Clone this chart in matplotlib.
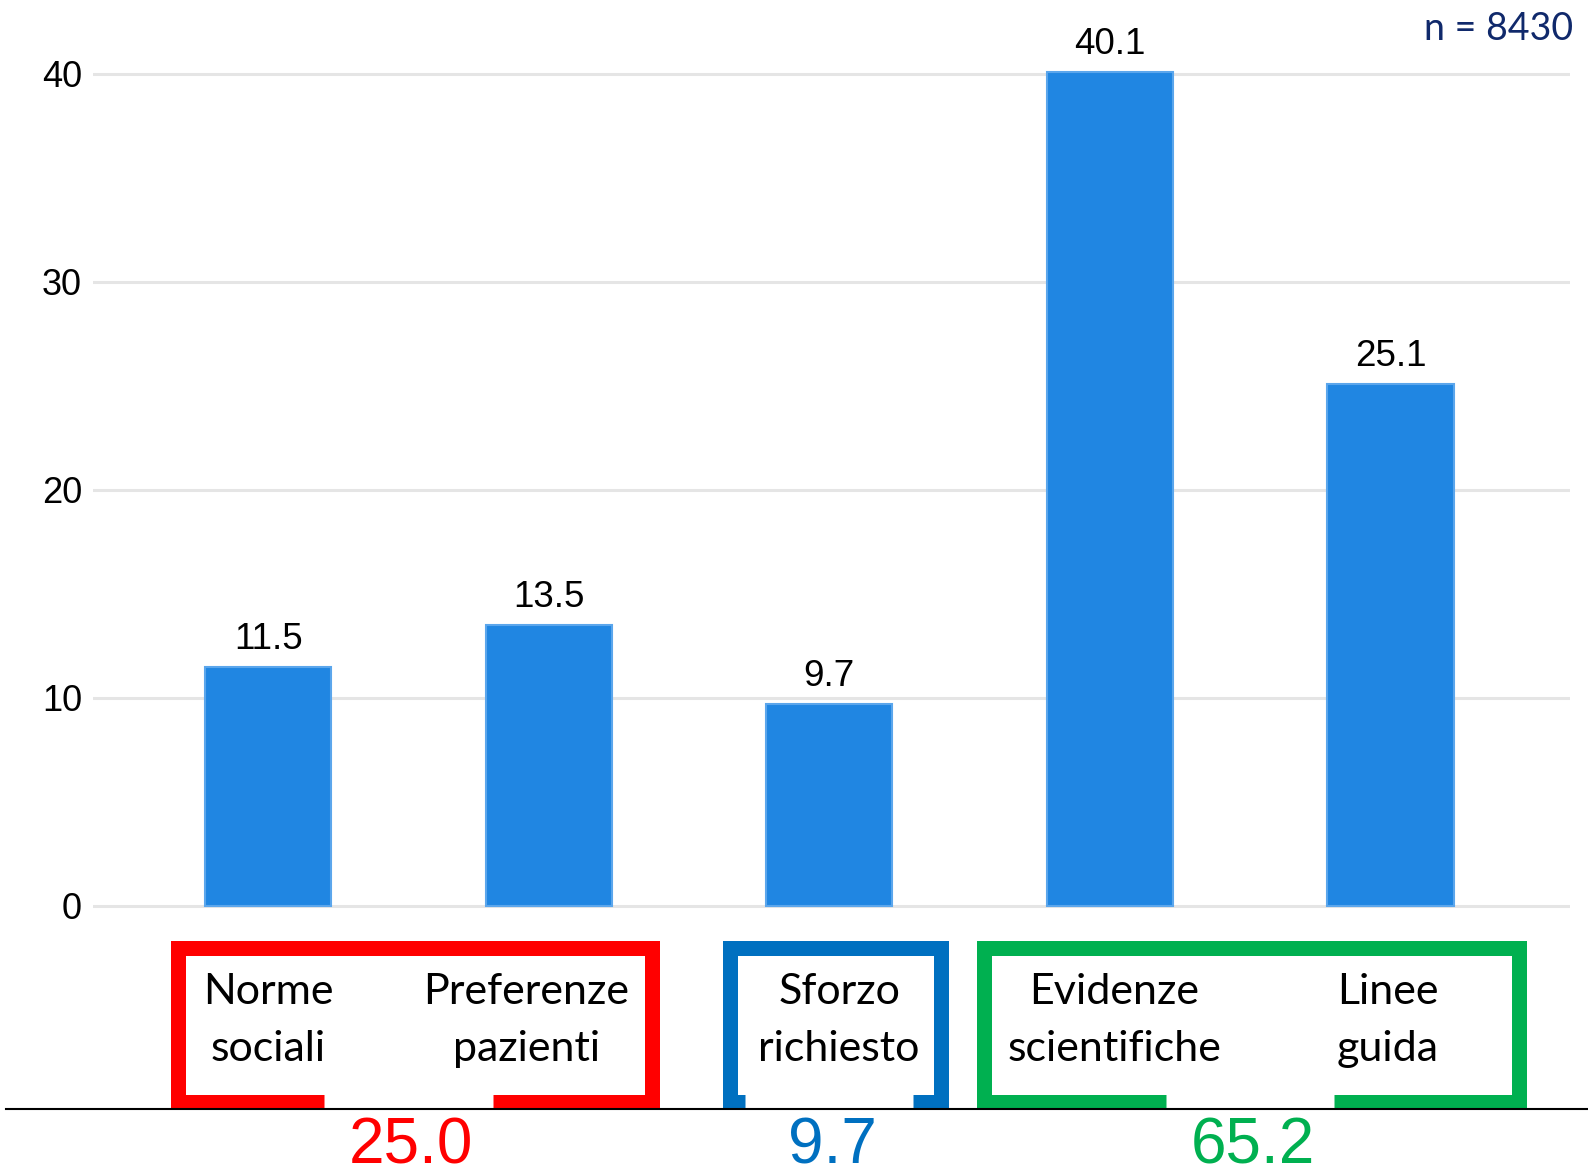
import numpy as np
import matplotlib
matplotlib.use("Agg")
import matplotlib.pyplot as plt
from matplotlib.lines import Line2D

# percentages per factor
categories = ["Norme\nsociali", "Preferenze\npazienti", "Sforzo\nrichiesto",
              "Evidenze\nscientifiche", "Linee\nguida"]
values = [11.5, 13.5, 9.7, 40.1, 25.1]
yticks = [0, 10, 20, 30, 40]
n_label = "n = 8430"

# grouped factors: (first index, last index, colour)
groups = [(0, 1, "#ff0000"), (2, 2, "#0070c0"), (3, 4, "#00b050")]

BAR = "#2086e2"
EDGE = "#5ba6ec"
GRID = "#e5e5e5"

fig = plt.figure(figsize=(15.88, 11.75), dpi=100)
ax = fig.add_axes([93 / 1588, 0.2201, (1570 - 93) / 1588, 0.7789])

xs = np.arange(len(values))
ax.bar(xs, values, width=0.45, color=BAR, edgecolor=EDGE, linewidth=1.5, zorder=3)
for x, v in zip(xs, values):
    ax.annotate(f"{v:.1f}", (x, v), xytext=(0, 7), textcoords="offset points",
                ha="center", va="bottom", fontsize=26.5, family="Liberation Sans")

ax.set_xlim(-0.624, 4.64)
ax.set_ylim(-0.5, 43.5)
ax.set_yticks(yticks)
ax.set_yticklabels([str(t) for t in yticks], fontsize=26, family="Liberation Sans")
ax.tick_params(axis="y", length=0, pad=8)
ax.set_xticks([])
ax.grid(axis="y", color=GRID, linewidth=2.2, zorder=0)
for s in ax.spines.values():
    s.set_visible(False)

# category names under the bars, inside the group brackets
label_dx = [0.0, -0.08, 0.035, 0.015, -0.01]
for x, lab, dx in zip(xs, categories, label_dx):
    ax.text(x + dx, -5.5, lab, ha="center", va="center", fontsize=31,
            family="Lato", linespacing=1.6, clip_on=False)

# brackets with a gap at the bottom holding the group total
pads = [(0.322, 0.370), (0.355, 0.398), (0.45, 0.46)]
y_top, y_bot = -2.04, -9.40
gap = 0.30
for (i0, i1, col), (pl, pr) in zip(groups, pads):
    left, right = i0 - pl, i1 + pr
    mid = (i0 + i1) / 2
    ax.plot([mid - gap, left, left, right, right, mid + gap],
            [y_bot, y_bot, y_top, y_top, y_bot, y_bot],
            color=col, linewidth=10.8, solid_capstyle="butt",
            solid_joinstyle="miter", clip_on=False, zorder=5)
    total = sum(values[i0:i1 + 1])
    ax.text(mid + 0.01, -11.55, f"{total:.1f}", ha="center", va="center",
            fontsize=46, color=col, family="Liberation Sans", clip_on=False)

fig.add_artist(Line2D([6 / 1588, 1.0], [1 - 1109 / 1175] * 2,
                      color="black", linewidth=1.5, zorder=1))

fig.text(1573 / 1588, 1 - 29 / 1175, n_label, ha="right", va="center",
         fontsize=27, family="Lato", color="#10296b")

fig.savefig("out.png", dpi=100)
